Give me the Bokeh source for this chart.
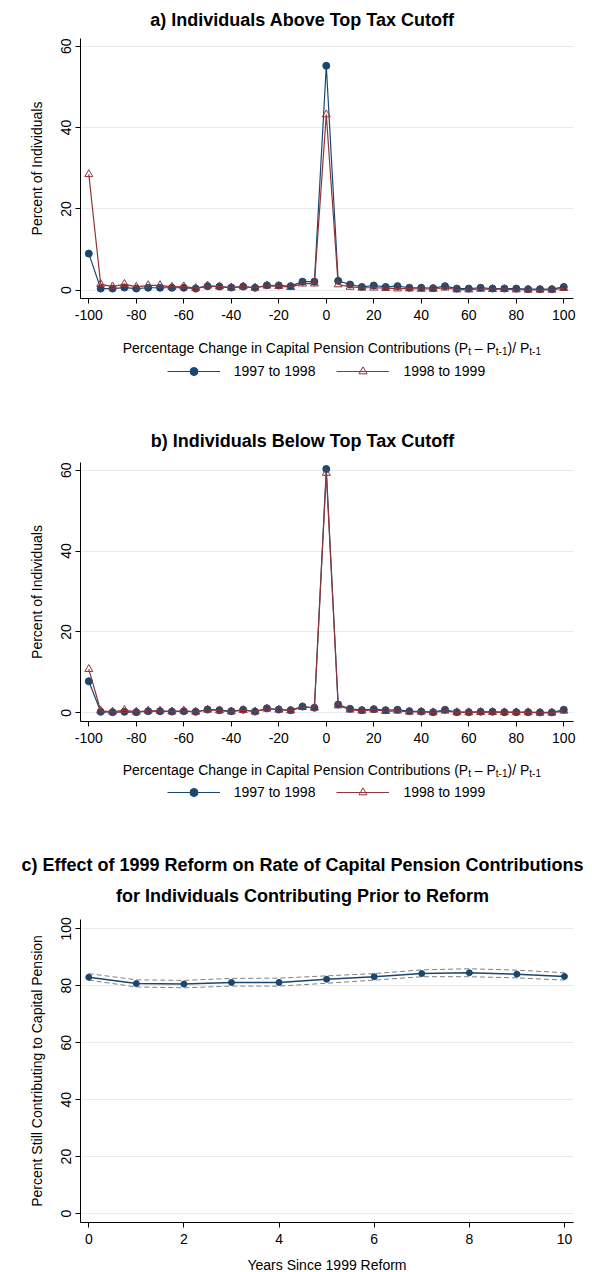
from bokeh.plotting import figure
from bokeh.layouts import column
from bokeh.models import Label, Legend, LegendItem, FixedTicker, Title
from bokeh.embed import file_html
from bokeh.resources import INLINE

# ---- data ----
pct_change = list(range(-100, 101, 5))

above_9798 = [9.0, 0.4, 0.4, 0.65, 0.4, 0.6, 0.6, 0.6, 0.6, 0.4,
              1.0, 0.9, 0.65, 0.9, 0.6, 1.2, 1.15, 1.0, 2.1, 2.1,
              55.2,
              2.3, 1.4, 0.8, 1.15, 0.8, 1.0, 0.6, 0.6, 0.5, 1.0,
              0.4, 0.4, 0.6, 0.4, 0.4, 0.4, 0.25, 0.25, 0.25, 0.8]
above_9899 = [28.5, 1.5, 0.9, 1.5, 0.8, 1.2, 1.2, 0.8, 0.9, 0.5,
              1.1, 0.9, 0.65, 0.9, 0.6, 1.1, 1.0, 0.75, 1.6, 1.6,
              43.2,
              1.4, 0.8, 0.6, 0.6, 0.5, 0.4, 0.4, 0.3, 0.3, 0.6,
              0.15, 0.15, 0.3, 0.25, 0.25, 0.15, 0.1, 0.1, 0.1, 0.5]

below_9798 = [7.8, 0.25, 0.15, 0.25, 0.15, 0.4, 0.4, 0.3, 0.4, 0.25,
              0.8, 0.65, 0.4, 0.75, 0.3, 1.1, 0.8, 0.65, 1.55, 1.25,
              60.3,
              2.05, 1.0, 0.65, 0.9, 0.65, 0.75, 0.4, 0.3, 0.15, 0.75,
              0.15, 0.15, 0.25, 0.25, 0.15, 0.15, 0.15, 0.1, 0.1, 0.75]
below_9899 = [10.8, 0.5, 0.25, 0.65, 0.25, 0.5, 0.5, 0.3, 0.5, 0.25,
              0.75, 0.55, 0.3, 0.65, 0.3, 1.0, 0.75, 0.55, 1.4, 1.25,
              59.3,
              1.8, 0.75, 0.5, 0.75, 0.4, 0.5, 0.25, 0.25, 0.1, 0.5,
              0.1, 0.1, 0.15, 0.15, 0.1, 0.1, 0.1, 0.0, 0.0, 0.5]

years = list(range(0, 11))
still_contrib = [83.0, 80.8, 80.6, 81.2, 81.2, 82.3, 83.2, 84.3, 84.6, 84.1, 83.3]
ci_upper = [84.3, 82.1, 81.9, 82.6, 82.7, 83.5, 84.3, 85.6, 86.0, 85.5, 84.6]
ci_lower = [82.0, 79.6, 79.3, 79.9, 79.9, 80.9, 82.0, 83.2, 83.2, 82.8, 82.0]

change_ticks = [-100, -80, -60, -40, -20, 0, 20, 40, 60, 80, 100]
share_ticks = [0, 20, 40, 60]
year_ticks = [0, 2, 4, 6, 8, 10]
contrib_ticks = [0, 20, 40, 60, 80, 100]

series_labels = ["1997 to 1998", "1998 to 1999"]
titles = ["a) Individuals Above Top Tax Cutoff",
          "b) Individuals Below Top Tax Cutoff",
          "c) Effect of 1999 Reform on Rate of Capital Pension Contributions",
          "for Individuals Contributing Prior to Reform"]
# x title of panels a and b, pieces flagged 1 are subscripts
change_xtitle = [("Percentage Change in Capital Pension Contributions (P", 0), ("t", 1),
                 (" \u2013 P", 0), ("t-1", 1), (")/ P", 0), ("t-1", 1)]

# ---- styling ----
BLUE = "#1a476f"
RED = "#90353b"
GRID = "#e4ecef"
DASH_GREY = "#808080"
FONT = "Liberation Sans"
W = 592
FRAME_L, FRAME_R = 80, 573   # every plot in the column shares this frame

# Arial advance widths (1/1000 em), used to lay out the subscripted axis title
ARIAL = {' ': 278, 'P': 667, 'e': 556, 'r': 333, 'c': 500, 'n': 556, 't': 278,
         'a': 556, 'g': 556, 'C': 722, 'h': 556, 'i': 222, 'l': 222, 'p': 556,
         's': 500, 'o': 556, 'b': 556, 'u': 556, '(': 333, ')': 333, '/': 278,
         '\u2013': 556, '-': 333, '1': 556}


def tw(s, size):
    return sum(ARIAL.get(ch, 556) for ch in s) * size / 1000.0


def style(p):
    p.outline_line_color = None
    p.background_fill_color = "white"
    p.border_fill_color = "white"


def text_fig(h):
    # data units == page pixels (x) and pixels from the top of this strip (y)
    p = figure(width=W, height=h, x_range=(FRAME_L, FRAME_R), y_range=(h, 0),
               x_axis_location=None, y_axis_location=None, min_border=0,
               min_border_left=FRAME_L, min_border_right=W - FRAME_R,
               output_backend="svg", toolbar_location=None)
    p.grid.visible = False
    style(p)
    return p


def put(p, txt, x, y, size=14, bold=False, align="center"):
    p.add_layout(Label(x=x, y=y, text=txt, text_font=FONT, text_font_size=f"{size}px",
                       text_font_style="bold" if bold else "normal",
                       text_align=align, text_baseline="middle", text_color="black"))


def main_fig(pad_top, frame_h, pad_bottom, xr, yr, xticks, yticks, ylabel):
    p = figure(frame_width=FRAME_R - FRAME_L, frame_height=frame_h,
               min_border_left=FRAME_L, min_border_right=W - FRAME_R,
               min_border_top=pad_top, min_border_bottom=pad_bottom,
               x_range=xr, y_range=yr, output_backend="svg", toolbar_location=None)
    style(p)
    p.xaxis.ticker = FixedTicker(ticks=xticks)
    p.yaxis.ticker = FixedTicker(ticks=yticks)
    p.ygrid.ticker = FixedTicker(ticks=yticks)
    p.xaxis.major_label_overrides = {t: str(t) for t in xticks}
    p.yaxis.major_label_overrides = {t: str(t) for t in yticks}
    p.xgrid.grid_line_color = None
    p.ygrid.grid_line_color = GRID
    for ax in (p.xaxis[0], p.yaxis[0]):
        ax.axis_line_color = "black"
        ax.major_tick_out = 5
        ax.major_tick_in = 0
        ax.major_tick_line_color = "black"
        ax.minor_tick_line_color = None
        ax.major_label_text_font = FONT
        ax.major_label_text_font_size = "14px"
        ax.major_label_text_color = "black"
        ax.major_label_standoff = 4
    p.xaxis.major_label_standoff = 6
    p.yaxis.major_label_orientation = "vertical"
    p.yaxis.axis_label = ylabel
    p.yaxis.axis_label_text_font = FONT
    p.yaxis.axis_label_text_font_size = "14px"
    p.yaxis.axis_label_text_font_style = "normal"
    p.yaxis.axis_label_text_color = "black"
    p.yaxis.axis_label_standoff = 14
    return p


def title_fig(h, lines):
    p = text_fig(h)
    for txt, y in lines:
        put(p, txt, 302, y, size=18, bold=True)
    return p


def draw_changes(p, s1, s2, visible=True):
    l1 = p.line(pct_change, s1, line_color=BLUE, line_width=1.2, visible=visible)
    m1 = p.scatter(pct_change, s1, marker="circle", size=7, fill_color=BLUE,
                   line_color=BLUE, visible=visible)
    l2 = p.line(pct_change, s2, line_color=RED, line_width=1.2, visible=visible)
    m2 = p.scatter(pct_change, s2, marker="triangle", size=8, fill_color=None,
                   line_color=RED, line_width=1, visible=visible)
    return l1, m1, l2, m2


def change_main(pad_top, frame_h, pad_bottom, yr, s1, s2):
    p = main_fig(pad_top, frame_h, pad_bottom, (-103.5, 104.1), yr,
                 change_ticks, share_ticks, "Percent of Individuals")
    draw_changes(p, s1, s2)
    return p


def change_foot(h, title_y, legend_y, s1, s2):
    p = text_fig(h)
    total = sum(tw(t, 10 if sub else 14) for t, sub in change_xtitle)
    x = 331.3 - total / 2
    for t, sub in change_xtitle:
        size = 10 if sub else 14
        lead = len(t) - len(t.lstrip(" "))
        put(p, t.lstrip(" "), x + tw(" " * lead, size), title_y + (4 if sub else 0),
            size=size, align="left")
        x += tw(t, size)
    # hidden copies of the series, only to give the legend its keys
    l1, m1, l2, m2 = draw_changes(p, s1, s2, visible=False)
    leg = Legend(items=[LegendItem(label=series_labels[0], renderers=[l1, m1]),
                        LegendItem(label=series_labels[1], renderers=[l2, m2])],
                 orientation="horizontal",
                 location=(166.7 - FRAME_L, h - legend_y - 10),
                 glyph_width=53, glyph_height=20, label_height=20, label_standoff=14,
                 spacing=21, padding=0, margin=0, border_line_color=None,
                 background_fill_alpha=0, inactive_fill_alpha=0, label_text_font=FONT,
                 label_text_font_size="14px", label_text_color="black")
    p.add_layout(leg, "center")
    return p


# panel a: page rows 0-30 / 30-330 / 330-425
a_top = title_fig(30, [(titles[0], 19)])
a_main = change_main(8, 260, 32, (-2.04, 61.9), above_9798, above_9899)
a_foot = change_foot(95, 17, 40.7, above_9798, above_9899)

# panel b: page rows 425-452 / 452-750 / 750-815
b_top = title_fig(27, [(titles[1], 15.7)])
b_main = change_main(10, 259, 29, (-2.15, 61.9), below_9798, below_9899)
b_foot = change_foot(65, 19, 42.3, below_9798, below_9899)

# panel c: page rows 815-875 / 875-912 / 912-1250 / 1250-1272
# first title line is wider than the frame, so it goes in a side panel
c_top1 = text_fig(60)
c_top1.add_layout(Title(text=titles[2], align="left", offset=21 - FRAME_L,
                        vertical_align="middle", standoff=0, text_font=FONT,
                        text_font_size="18px", text_font_style="bold",
                        text_color="black"), "below")
c_top2 = title_fig(37, [(titles[3], 20)])
c_main = main_fig(7, 303, 28, (-0.174, 10.19), (-3.16, 103.3), year_ticks, contrib_ticks,
                  "Percent Still Contributing to Capital Pension")
c_main.line(years, ci_upper, line_color=DASH_GREY, line_width=1, line_dash="5 3")
c_main.line(years, ci_lower, line_color=DASH_GREY, line_width=1, line_dash="5 3")
c_main.line(years, still_contrib, line_color=BLUE, line_width=1.5)
c_main.scatter(years, still_contrib, marker="circle", size=6, fill_color=BLUE, line_color=BLUE)
c_foot = text_fig(22)
put(c_foot, "Years Since 1999 Reform", 326.5, 14)

layout = column(a_top, a_main, a_foot, b_top, b_main, b_foot,
                c_top1, c_top2, c_main, c_foot, spacing=0)
open("out.html", "w").write(file_html(layout, INLINE))
